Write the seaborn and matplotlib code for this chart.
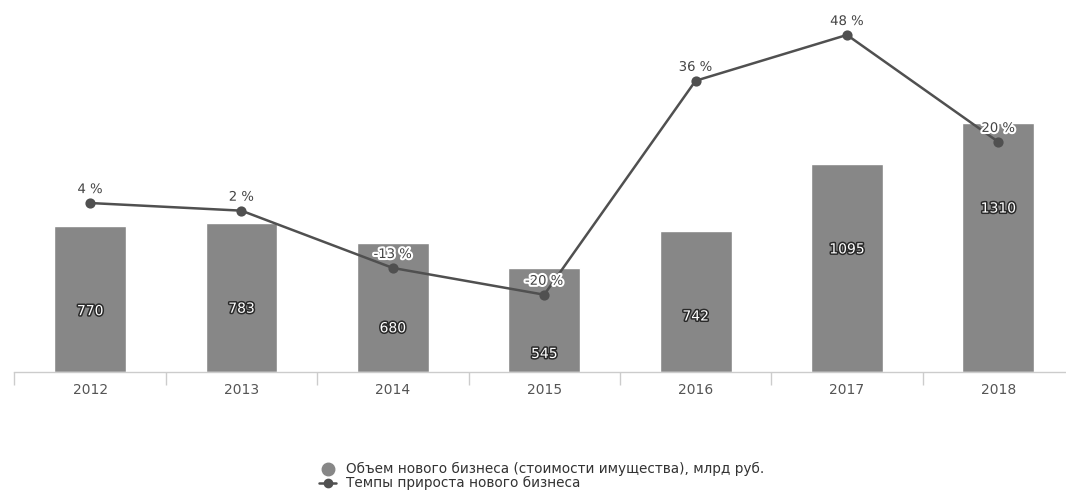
import matplotlib
matplotlib.use("Agg")
import matplotlib.pyplot as plt
import matplotlib.patheffects as pe
from matplotlib.lines import Line2D
import seaborn as sns
import pandas as pd
import numpy as np

years = ["2012", "2013", "2014", "2015", "2016", "2017", "2018"]
volume = [770, 783, 680, 545, 742, 1095, 1310]
growth = [4, 2, -13, -20, 36, 48, 20]
volume_label = "Объем нового бизнеса (стоимости имущества), млрд руб."
growth_label = "Темпы прироста нового бизнеса"

df = pd.DataFrame({"year": years, "volume": volume, "growth": growth})

sns.set_theme(style="white")
plt.rcParams["font.family"] = ["DejaVu Sans"]

bar_color = "#878787"
line_color = "#505050"

fig = plt.figure(figsize=(10.66, 4.95), dpi=100)
W, H = 1066, 495
left = 14.4 / W
bottom = 1 - 372 / H
ax = fig.add_axes([left, bottom, 1059.6 / W, 352 / H])

sns.barplot(data=df, x="year", y="volume", color=bar_color, width=0.475,
            saturation=1, ax=ax, zorder=2)
ax.set_ylim(0, 352 / (249 / 1310))
ax.set_xlim(-0.5, 6.5)

ax2 = ax.twinx()
sns.pointplot(data=df, x="year", y="growth", color=line_color, markers="o",
              linestyles="-", ax=ax2, markersize=6, linewidth=1.8)
ax2.set_xlim(-0.5, 6.5)
ppp = 3.82
ax2.set_ylim(-153.7 / ppp, (352 - 153.7) / ppp)

# bar value labels
for i, v in enumerate(volume):
    ax.text(i, v - 450, f"{v}", ha="center", va="center", fontsize=10,
            color="white", zorder=5,
            path_effects=[pe.withStroke(linewidth=2.2, foreground="#2a2a2a")])

# percent labels
for i, g in enumerate(growth):
    ax2.annotate(f"{g} %", (i, g), xytext=(0, 5), textcoords="offset points",
                 ha="center", va="bottom", fontsize=9.5, color="#444444",
                 zorder=6,
                 path_effects=[pe.withStroke(linewidth=3, foreground="white")])

for a in (ax, ax2):
    for s in a.spines.values():
        s.set_visible(False)
    a.set_ylabel("")
    a.set_yticks([])
    a.grid(False)
ax.set_xlabel("")
ax2.set_xlabel("")
ax.spines["bottom"].set_visible(True)
ax.spines["bottom"].set_color("#cccccc")
ax.spines["bottom"].set_linewidth(1)

ax.tick_params(axis="x", which="major", length=0, pad=8, labelsize=10,
               labelcolor="#555555")
ax.set_xticks(np.arange(-0.5, 7.0, 1.0), minor=True)
ax.tick_params(axis="x", which="minor", length=9, color="#cccccc", width=1,
               direction="out", bottom=True)
ax2.tick_params(axis="x", which="both", length=0, labelbottom=False)

handles = [
    Line2D([], [], marker="o", linestyle="none", color=bar_color, markersize=9),
    Line2D([], [], marker="o", linestyle="-", color=line_color, markersize=6,
           linewidth=1.8),
]
fig.legend(handles, [volume_label, growth_label], loc="upper center",
           bbox_to_anchor=(0.508, 1 - 450 / H), frameon=False, fontsize=9.8,
           labelspacing=0.0, handlelength=1.3, handletextpad=0.7,
           labelcolor="#333333")

fig.savefig("out.png", dpi=100)
